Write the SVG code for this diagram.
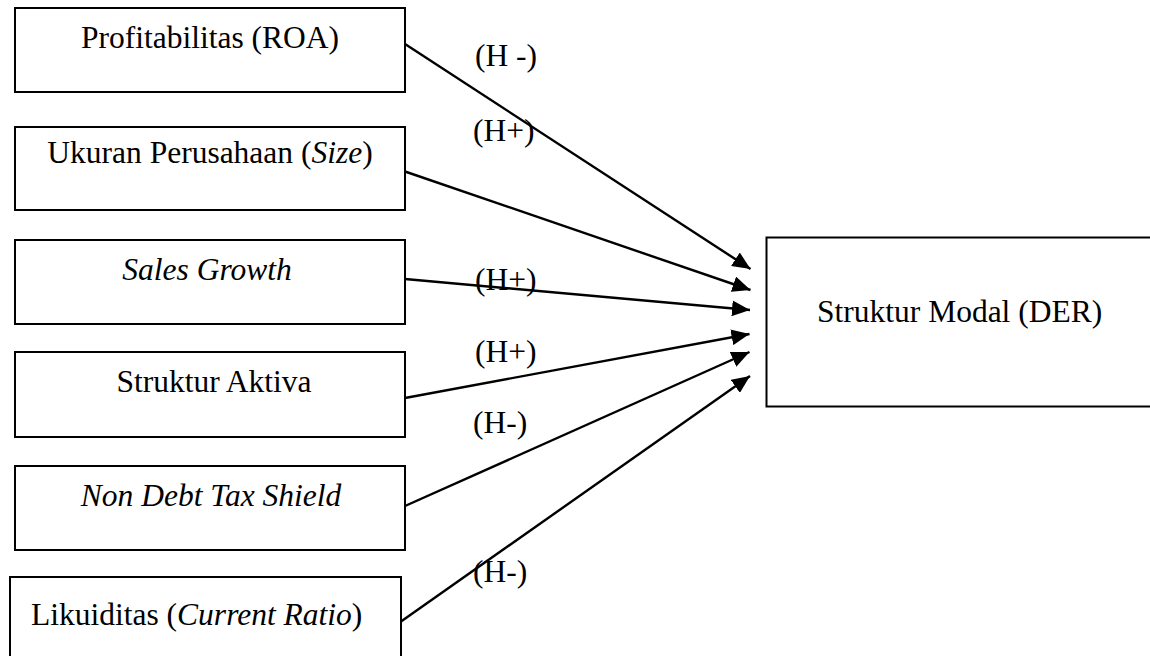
<svg xmlns="http://www.w3.org/2000/svg" width="1150" height="656" viewBox="0 0 1150 656">
<style>
.box{fill:#fff;stroke:#000;stroke-width:2}
.t{font-family:"Liberation Serif","Times New Roman",serif;font-size:31.5px;fill:#000}
.c{text-anchor:middle}
.i{font-style:italic}
.ln{stroke:#000;stroke-width:2.4;fill:none;marker-end:url(#ah)}
</style>
<defs>
<marker id="ah" markerUnits="userSpaceOnUse" markerWidth="20" markerHeight="16" refX="18" refY="8" orient="auto">
<path d="M0,0 L18,8 L0,16 z" fill="#000"/>
</marker>
</defs>
<rect width="1150" height="656" fill="#fff"/>
<g id="n-roa">
<rect class="box" x="15" y="8" width="390" height="84"/>
<text class="t c" x="210" y="48">Profitabilitas (ROA)</text>
</g>
<g id="n-size">
<rect class="box" x="15" y="127" width="390" height="83"/>
<text class="t c" x="210" y="163">Ukuran Perusahaan (<tspan class="i">Size</tspan>)</text>
</g>
<g id="n-sales">
<rect class="box" x="15" y="240" width="390" height="84"/>
<text class="t c i" x="207" y="280">Sales Growth</text>
</g>
<g id="n-aktiva">
<rect class="box" x="15" y="352" width="390" height="85"/>
<text class="t c" x="214" y="392">Struktur Aktiva</text>
</g>
<g id="n-ndts">
<rect class="box" x="15" y="466" width="390" height="84"/>
<text class="t c i" x="211" y="506">Non Debt Tax Shield</text>
</g>
<g id="n-cr">
<rect class="box" x="10" y="577" width="391" height="100"/>
<text class="t" x="31" y="625">Likuiditas (<tspan class="i">Current Ratio</tspan>)</text>
</g>
<g id="n-der">
<rect class="box" x="766.5" y="237.5" width="400" height="169"/>
<text class="t" x="817" y="322">Struktur Modal (DER)</text>
</g>
<g id="connectors">
<line class="ln" x1="405" y1="44" x2="750.5" y2="269"/>
<line class="ln" x1="405" y1="171.5" x2="750.5" y2="290"/>
<line class="ln" x1="405" y1="279" x2="750" y2="310"/>
<line class="ln" x1="405" y1="398" x2="749.5" y2="334"/>
<line class="ln" x1="405" y1="506" x2="749.5" y2="352"/>
<line class="ln" x1="401" y1="621.5" x2="750" y2="376"/>
</g>
<g id="labels">
<text class="t" x="475" y="66">(H -)</text>
<text class="t" x="473" y="141">(H+)</text>
<text class="t" x="475" y="290">(H+)</text>
<text class="t" x="475" y="362">(H+)</text>
<text class="t" x="473" y="433">(H-)</text>
<text class="t" x="473" y="582">(H-)</text>
</g>
</svg>
